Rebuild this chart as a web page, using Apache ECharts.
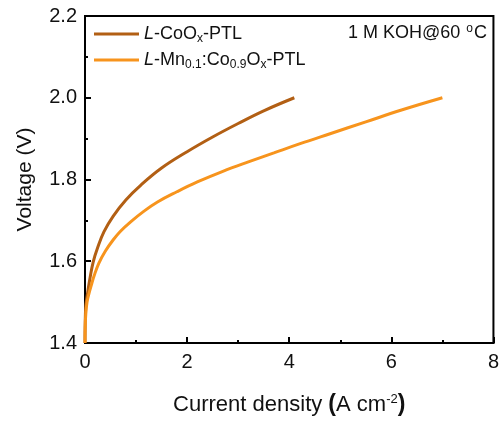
<!DOCTYPE html>
<html>
<head>
<meta charset="utf-8">
<script src="https://cdn.jsdelivr.net/npm/echarts@6/dist/echarts.min.js"></script>
<style>html,body{margin:0;padding:0;background:#fff}#c{width:502px;height:421px}</style>
</head>
<body>
<div id="c"></div>
<script>
// Current density (A cm^-2), Voltage (V)
var coCurrent = [0, 0.004, 0.015, 0.03, 0.06, 0.1, 0.16, 0.25, 0.37, 0.55, 0.8, 1.1, 1.5, 2.0, 2.5, 3.0, 3.5, 4.1];
var coVoltage = [1.40, 1.45, 1.49, 1.505, 1.53, 1.56, 1.598, 1.634, 1.672, 1.710, 1.750, 1.787, 1.828, 1.868, 1.904, 1.937, 1.968, 2.0];
var mnCurrent = [0, 0.004, 0.015, 0.04, 0.08, 0.12, 0.18, 0.27, 0.4, 0.55, 0.7, 0.9, 1.15, 1.42, 1.8, 2.2, 2.7, 3.2, 3.7, 4.2, 4.8, 5.5, 6.2, 7.0];
var mnVoltage = [1.40, 1.44, 1.47, 1.50, 1.522, 1.54, 1.565, 1.595, 1.625, 1.652, 1.674, 1.697, 1.722, 1.745, 1.770, 1.794, 1.820, 1.843, 1.865, 1.887, 1.912, 1.941, 1.970, 2.0];
var seriesNames = ['L-CoOx-PTL', 'L-Mn0.1:Co0.9Ox-PTL'];
var xTicks = [0, 2, 4, 6, 8];
var yTicks = [1.4, 1.6, 1.8, 2.0, 2.2];

function pairs(xs, ys) { return xs.map(function (x, i) { return [x, ys[i]]; }); }

var font = 'Liberation Sans, Arial, sans-serif';
var axisCommon = {
  axisLine: {show: true, lineStyle: {color: '#000', width: 2}},
  axisTick: {show: true, inside: true, length: 6, lineStyle: {color: '#000', width: 2}},
  minorTick: {show: true, splitNumber: 2, length: 3, lineStyle: {color: '#000', width: 2}},
  splitLine: {show: false}
};
var chart = echarts.init(document.getElementById('c'), null, {renderer: 'canvas'});
chart.setOption({
  animation: false,
  textStyle: {fontFamily: font},
  grid: {left: 85, right: 7, top: 16, bottom: 74, show: true, borderColor: '#000', borderWidth: 2, backgroundColor: 'transparent'},
  title: {
    text: '1 M KOH@60 {sup|o}C',
    right: 10, top: 18,
    textStyle: {fontFamily: font, fontSize: 18, fontWeight: 'normal', color: '#111',
      rich: {sup: {fontSize: 12, fontFamily: font, color: '#111', verticalAlign: 'top', padding: [0, 1, 8, 1]}}}
  },
  legend: {
    orient: 'vertical', left: 89, top: 20, itemWidth: 45, itemHeight: 3, itemGap: 6,
    icon: 'rect',
    data: seriesNames,
    textStyle: {fontFamily: font, fontSize: 18, color: '#111',
      rich: {
        i: {fontStyle: 'italic', fontSize: 18, fontFamily: font, color: '#111'},
        sub: {fontSize: 12, fontFamily: font, color: '#111', verticalAlign: 'bottom', padding: [10, 0, 0, 0]}
      }},
    formatter: function (n) {
      if (n === seriesNames[0]) return '{i|L}-CoO{sub|x}-PTL';
      return '{i|L}-Mn{sub|0.1}:Co{sub|0.9}O{sub|x}-PTL';
    }
  },
  xAxis: Object.assign({
    type: 'value', min: xTicks[0], max: xTicks[xTicks.length - 1], interval: 2,
    name: 'Current density {b|(}A cm{sup|-2}{b|)}', nameLocation: 'middle', nameGap: 50,
    nameTextStyle: {fontFamily: font, fontSize: 22, color: '#111',
      rich: {b: {fontWeight: 'bold', fontSize: 23, fontFamily: font, color: '#111'},
             sup: {fontSize: 13, fontFamily: font, color: '#111', verticalAlign: 'top', padding: [0, 0, 10, 0]}}},
    axisLabel: {fontFamily: font, fontSize: 20, color: '#111', margin: 9}
  }, axisCommon),
  yAxis: Object.assign({
    type: 'value', min: yTicks[0], max: yTicks[yTicks.length - 1], interval: 0.2,
    name: 'Voltage (V)', nameLocation: 'middle', nameGap: 49,
    nameTextStyle: {fontFamily: font, fontSize: 21, color: '#111'},
    axisLabel: {fontFamily: font, fontSize: 20, color: '#111', margin: 8,
      formatter: function (v) { return v.toFixed(1); }}
  }, axisCommon),
  series: [
    {name: seriesNames[0], type: 'line', data: pairs(coCurrent, coVoltage), showSymbol: false, symbol: 'none',
      smooth: 0.4, lineStyle: {color: '#B25F14', width: 3}, itemStyle: {color: '#B25F14'}},
    {name: seriesNames[1], type: 'line', data: pairs(mnCurrent, mnVoltage), showSymbol: false, symbol: 'none',
      smooth: 0.4, lineStyle: {color: '#F7941D', width: 3}, itemStyle: {color: '#F7941D'}}
  ]
});
</script>
</body>
</html>
